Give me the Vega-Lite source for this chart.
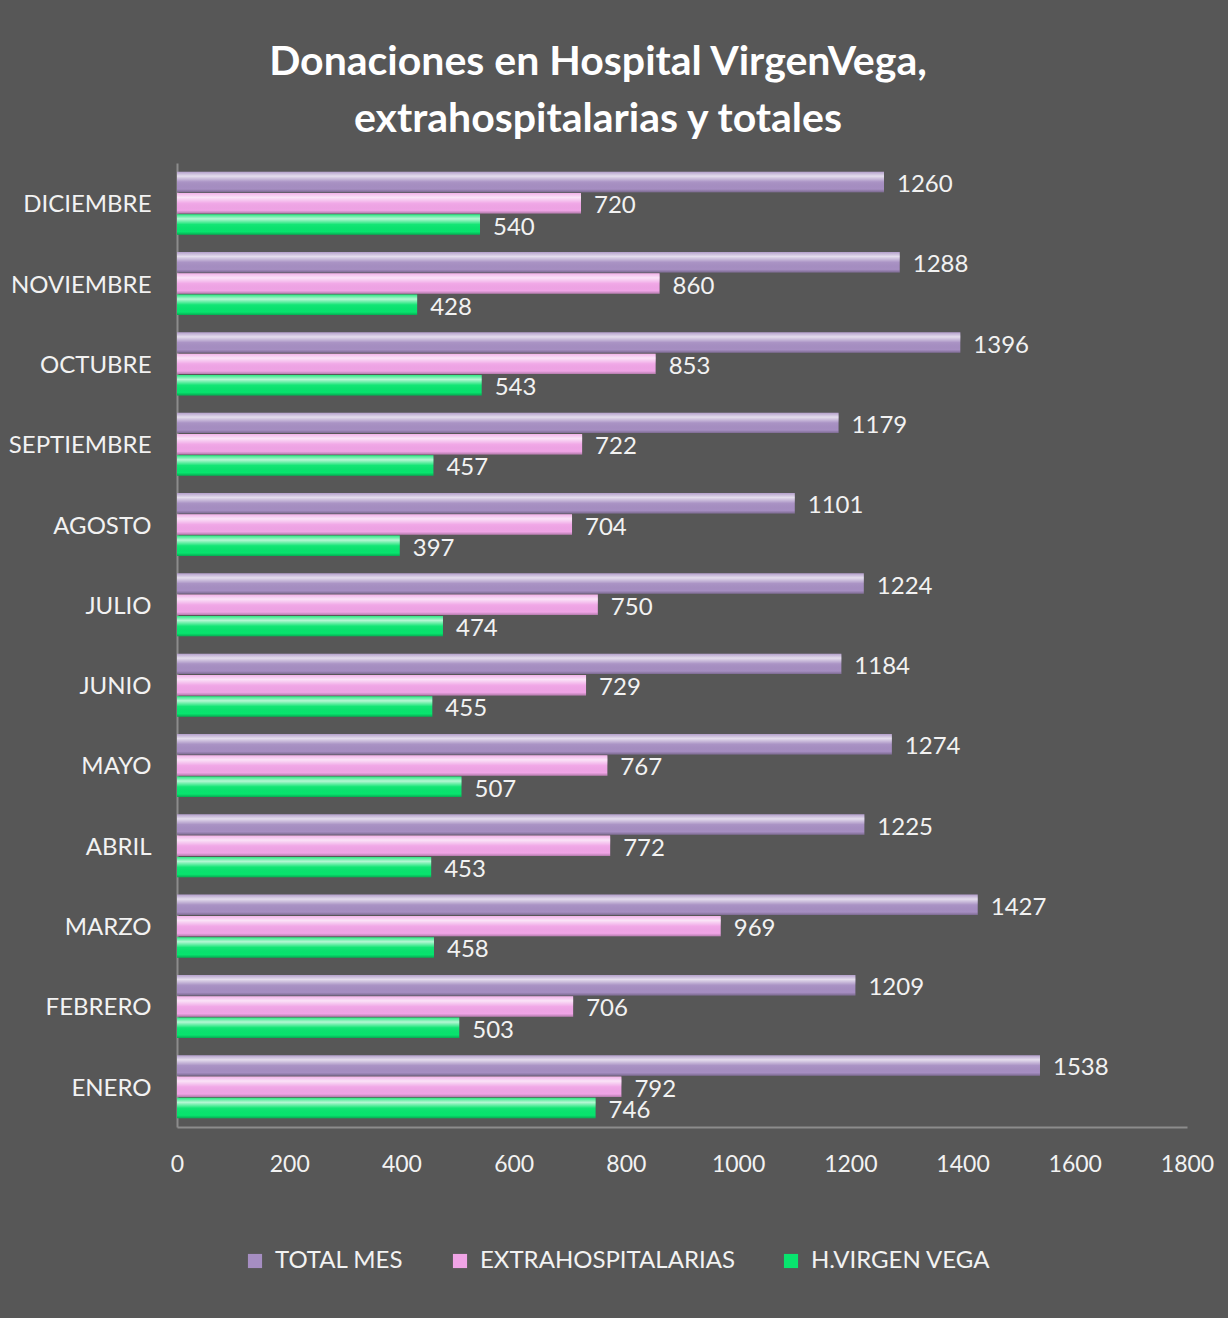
{
  "$schema": "https://vega.github.io/schema/vega-lite/v6.json",
  "autosize": {"type": "none"},
  "padding": {"left": 177, "top": 163, "right": 41, "bottom": 191},
  "width": 1010,
  "height": 964,
  "background": "#575757",
  "config": {
    "view": {"stroke": null},
    "font": "Lato",
    "text": {"font": "Lato"}
  },
  "title": {
    "text": ["Donaciones en Hospital VirgenVega,", "extrahospitalarias y totales"],
    "font": "Lato",
    "fontSize": 41,
    "fontWeight": "bold",
    "color": "#ffffff",
    "lineHeight": 57,
    "anchor": "middle",
    "dx": -84,
    "offset": 22
  },
  "data": {
    "values": [
      {"mes": "DICIEMBRE", "serie": "TOTAL MES", "valor": 1260},
      {"mes": "DICIEMBRE", "serie": "EXTRAHOSPITALARIAS", "valor": 720},
      {"mes": "DICIEMBRE", "serie": "H.VIRGEN VEGA", "valor": 540},
      {"mes": "NOVIEMBRE", "serie": "TOTAL MES", "valor": 1288},
      {"mes": "NOVIEMBRE", "serie": "EXTRAHOSPITALARIAS", "valor": 860},
      {"mes": "NOVIEMBRE", "serie": "H.VIRGEN VEGA", "valor": 428},
      {"mes": "OCTUBRE", "serie": "TOTAL MES", "valor": 1396},
      {"mes": "OCTUBRE", "serie": "EXTRAHOSPITALARIAS", "valor": 853},
      {"mes": "OCTUBRE", "serie": "H.VIRGEN VEGA", "valor": 543},
      {"mes": "SEPTIEMBRE", "serie": "TOTAL MES", "valor": 1179},
      {"mes": "SEPTIEMBRE", "serie": "EXTRAHOSPITALARIAS", "valor": 722},
      {"mes": "SEPTIEMBRE", "serie": "H.VIRGEN VEGA", "valor": 457},
      {"mes": "AGOSTO", "serie": "TOTAL MES", "valor": 1101},
      {"mes": "AGOSTO", "serie": "EXTRAHOSPITALARIAS", "valor": 704},
      {"mes": "AGOSTO", "serie": "H.VIRGEN VEGA", "valor": 397},
      {"mes": "JULIO", "serie": "TOTAL MES", "valor": 1224},
      {"mes": "JULIO", "serie": "EXTRAHOSPITALARIAS", "valor": 750},
      {"mes": "JULIO", "serie": "H.VIRGEN VEGA", "valor": 474},
      {"mes": "JUNIO", "serie": "TOTAL MES", "valor": 1184},
      {"mes": "JUNIO", "serie": "EXTRAHOSPITALARIAS", "valor": 729},
      {"mes": "JUNIO", "serie": "H.VIRGEN VEGA", "valor": 455},
      {"mes": "MAYO", "serie": "TOTAL MES", "valor": 1274},
      {"mes": "MAYO", "serie": "EXTRAHOSPITALARIAS", "valor": 767},
      {"mes": "MAYO", "serie": "H.VIRGEN VEGA", "valor": 507},
      {"mes": "ABRIL", "serie": "TOTAL MES", "valor": 1225},
      {"mes": "ABRIL", "serie": "EXTRAHOSPITALARIAS", "valor": 772},
      {"mes": "ABRIL", "serie": "H.VIRGEN VEGA", "valor": 453},
      {"mes": "MARZO", "serie": "TOTAL MES", "valor": 1427},
      {"mes": "MARZO", "serie": "EXTRAHOSPITALARIAS", "valor": 969},
      {"mes": "MARZO", "serie": "H.VIRGEN VEGA", "valor": 458},
      {"mes": "FEBRERO", "serie": "TOTAL MES", "valor": 1209},
      {"mes": "FEBRERO", "serie": "EXTRAHOSPITALARIAS", "valor": 706},
      {"mes": "FEBRERO", "serie": "H.VIRGEN VEGA", "valor": 503},
      {"mes": "ENERO", "serie": "TOTAL MES", "valor": 1538},
      {"mes": "ENERO", "serie": "EXTRAHOSPITALARIAS", "valor": 792},
      {"mes": "ENERO", "serie": "H.VIRGEN VEGA", "valor": 746}
    ]
  },
  "encoding": {
    "y": {
      "field": "mes",
      "type": "nominal",
      "sort": ["DICIEMBRE", "NOVIEMBRE", "OCTUBRE", "SEPTIEMBRE", "AGOSTO", "JULIO", "JUNIO", "MAYO", "ABRIL", "MARZO", "FEBRERO", "ENERO"],
      "scale": {"paddingInner": 0.215, "paddingOuter": 0.108},
      "axis": {
        "title": null,
        "ticks": false,
        "labelPadding": 26,
        "labelFont": "Lato",
        "labelFontSize": 24,
        "labelColor": "#f2f2f2",
        "labelOffset": 2,
        "domainColor": "#8c8c8c",
        "domainWidth": 2
      }
    },
    "yOffset": {
      "field": "serie",
      "type": "nominal",
      "sort": ["TOTAL MES", "EXTRAHOSPITALARIAS", "H.VIRGEN VEGA"],
      "scale": {"paddingInner": 0.04, "paddingOuter": 0}
    },
    "x": {
      "field": "valor",
      "type": "quantitative",
      "scale": {"domain": [0, 1800], "nice": false},
      "axis": {
        "title": null,
        "values": [0, 200, 400, 600, 800, 1000, 1200, 1400, 1600, 1800],
        "format": "d",
        "ticks": false,
        "grid": false,
        "labelPadding": 26,
        "labelFont": "Lato",
        "labelFontSize": 23,
        "labelColor": "#f2f2f2",
        "labelFlush": false,
        "labelOverlap": false,
        "domainColor": "#8c8c8c",
        "domainWidth": 2
      }
    }
  },
  "layer": [
    {
      "mark": {"type": "bar", "cornerRadius": 0},
      "encoding": {
        "color": {
          "field": "serie",
          "type": "nominal",
          "sort": ["TOTAL MES", "EXTRAHOSPITALARIAS", "H.VIRGEN VEGA"],
          "scale": {
            "domain": ["TOTAL MES", "EXTRAHOSPITALARIAS", "H.VIRGEN VEGA"],
            "range": ["#a68ec2", "#f0a4e6", "#08e46e"]
          },
          "legend": {
            "title": null,
            "orient": "none",
            "direction": "horizontal",
            "legendX": 66,
            "legendY": 1086,
            "padding": 0,
            "symbolType": "square",
            "symbolSize": 200,
            "symbolStrokeWidth": 0,
            "symbolOpacity": 1,
            "labelFont": "Lato",
            "labelFontSize": 24,
            "labelColor": "#f2f2f2",
            "labelOffset": 8,
            "columnPadding": 44,
            "labelLimit": 400
          }
        }
      }
    },
    {
      "mark": {
        "type": "bar",
        "color": {
          "gradient": "linear",
          "x1": 0, "y1": 0, "x2": 0, "y2": 1,
          "stops": [
            {"offset": 0, "color": "rgba(255,255,255,0.15)"},
            {"offset": 0.22, "color": "rgba(255,255,255,0.7)"},
            {"offset": 0.5, "color": "rgba(255,255,255,0.05)"},
            {"offset": 0.85, "color": "rgba(0,0,0,0)"},
            {"offset": 1, "color": "rgba(0,0,0,0.25)"}
          ]
        }
      },
      "encoding": {}
    },
    {
      "mark": {
        "type": "text",
        "align": "left",
        "baseline": "middle",
        "dx": 13,
        "dy": 3,
        "font": "Lato",
        "fontSize": 24,
        "color": "#f2f2f2"
      },
      "encoding": {
        "text": {"field": "valor", "type": "quantitative"}
      }
    }
  ]
}
